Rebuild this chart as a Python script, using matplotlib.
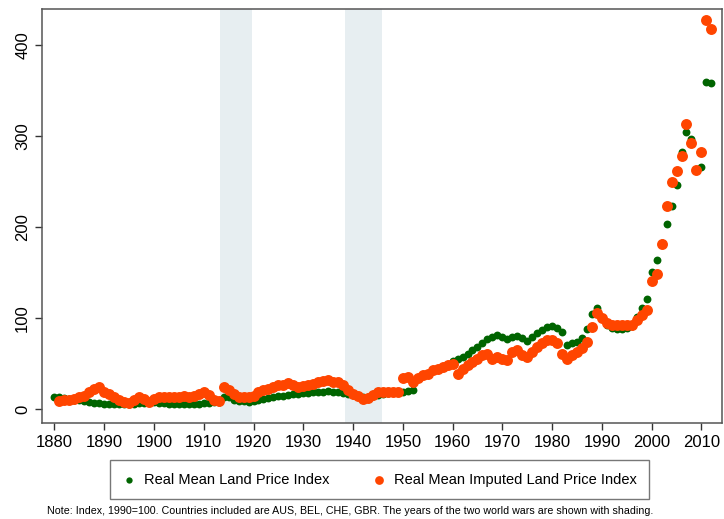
import numpy as np
import matplotlib
matplotlib.use("Agg")
import matplotlib.pyplot as plt

plt.rcParams['font.family'] = ['Liberation Sans', 'DejaVu Sans']

# years 1880-2012
years = np.arange(1880, 2013)

# real mean land price index (green)
land = [14, 13, 12, 11, 10.5, 10, 9, 8, 7, 6.5,
        6.2, 6.2, 6, 6, 6, 6, 6.2, 6.5, 7, 7.5,
        8, 7, 6.5, 6.2, 6.2, 6.2, 6, 5.5, 6, 6.2,
        6.5, 7, 7.5, 8, 14, 13, 10.5, 9.5, 9, 8.5,
        9.5, 10.5, 11.5, 12.5, 13.5, 14.5, 15, 15.5, 16.5, 17,
        17.5, 18, 18.5, 19, 19.5, 19.8, 19.5, 18.5, 17.5, 16.5,
        15.5, 14.5, 13.6, 14, 15, 16, 17, 18, 19, 19,
        19.5, 20, 21, 34, 37.5, 39.3, 42.9, 44.7, 46.6, 48.4,
        53, 55.7, 57.5, 61, 65, 68.6, 73, 76.8, 79.7, 81.6,
        79, 76.8, 79.7, 80.4, 77.9, 75.3, 79.7, 83.4, 87.1, 90,
        91.5, 88.9, 85.2, 70.5, 72.3, 74.1, 77.9, 87.8, 105, 111,
        100, 93, 89, 88, 88, 89, 91, 101, 111, 121,
        151, 164, 182, 203, 223, 246, 282, 304, 297, 263,
        266, 359, 358]

# real mean imputed land price index (orange), starts 1881
imputed = [np.nan, 9.5, 10, 10.7, 11.7, 13, 15, 19, 22.8, 24.6,
           19, 17.3, 13.6, 10, 7.5, 6.5, 10, 14, 11, 8,
           11.5, 13.5, 13.2, 13, 13, 13.6, 14.3, 13, 14.3, 16.5,
           18.5, 15.5, 10.7, 9.5, 25, 21, 17, 14, 13, 13,
           15, 19, 21, 22.8, 24.6, 26.4, 27.2, 29, 27, 25,
           26, 26.4, 28.2, 30, 31.5, 31.9, 30.5, 30, 26.4, 21,
           17.3, 14.3, 11.7, 12.5, 16, 18.5, 19, 19, 19.2, 19.5,
           34, 35.6, 30.5, 34, 37.5, 39.3, 42.9, 44.7, 46.6, 48.4,
           50.2, 39.2, 44.7, 48.4, 52.1, 55.7, 59.4, 61.2, 55.7, 57.5,
           55.7, 53.9, 63.1, 64.9, 59.4, 57.5, 63.1, 68.6, 72.3, 76,
           76, 72.3, 61.2, 55.7, 59.4, 63.1, 66.8, 74.1, 90.6, 105.3,
           100, 95, 92.5, 92, 92, 93, 93, 98, 103.6, 109,
           141, 148, 181.5, 223, 249, 261.5, 278, 313, 292, 263,
           282, 427, 417]

# world war shading
war_start = [1913.3, 1938.4]
war_end = [1919.7, 1945.8]

xticks = list(range(1880, 2011, 10))
yticks = [0, 100, 200, 300, 400]

fig = plt.figure(figsize=(7.24, 5.19), dpi=100)
ax = fig.add_axes([0.058, 0.185, 0.939, 0.798])

for a, b in zip(war_start, war_end):
    ax.axvspan(a, b, color='#e7eef1', lw=0, zorder=0)

ax.scatter(years, land, s=32, color='#006400', lw=0, zorder=2,
           label='Real Mean Land Price Index')
ax.scatter(years, imputed, s=62, color='#ff4500', lw=0, zorder=3,
           label='Real Mean Imputed Land Price Index')

ax.set_xlim(1877.5, 2014.1)
ax.set_ylim(-15, 439.5)
ax.set_xticks(xticks)
ax.set_yticks(yticks)
ax.tick_params(labelsize=12, length=5, width=1, color='#333333')
for lab in ax.get_yticklabels():
    lab.set_rotation(90)
    lab.set_va('center')
for sp in ax.spines.values():
    sp.set_color('#555555')
    sp.set_linewidth(1.1)

leg = fig.legend(loc='center', bbox_to_anchor=(0.524, 0.076), ncol=2,
                 fontsize=10.5, fancybox=False, edgecolor='#555555',
                 columnspacing=2.9, handlelength=1.0, handletextpad=0.5,
                 borderpad=0.85, markerscale=0.8)
leg.get_frame().set_linewidth(1.0)

fig.text(0.483, 0.015, 'Note: Index, 1990=100. Countries included are AUS, BEL, CHE, GBR. '
         'The years of the two world wars are shown with shading.',
         ha='center', va='center', fontsize=7.7)

plt.savefig('out.png', dpi=100)
